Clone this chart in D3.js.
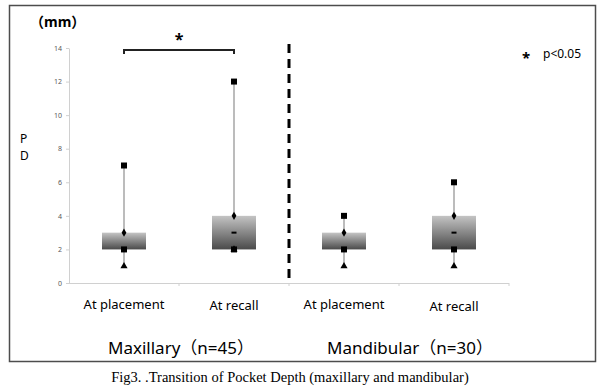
<!DOCTYPE html>
<html><head><meta charset="utf-8">
<script src="https://cdn.jsdelivr.net/npm/d3@7"></script>
<style>
html,body{margin:0;padding:0;background:#fff;}
svg{display:block;}
</style></head>
<body>
<svg id="c" width="604" height="392"></svg>
<script>
const categories = ["At placement", "At recall", "At placement", "At recall"];
const groups = ["Maxillary（n=45）", "Mandibular（n=30）"];
const maxVals = [7, 12, 4, 6];
const q3Vals = [3, 4, 3, 4];
const medVals = [2, 3, 2, 3];
const q1Vals = [2, 2, 2, 2];
const minVals = [1, 2, 1, 1];
const yTicks = [0, 2, 4, 6, 8, 10, 12, 14];

const svg = d3.select("#c");
const sans = "'Noto Sans','Noto Sans CJK JP',sans-serif";

const defs = svg.append("defs");
const g = defs.append("linearGradient").attr("id","boxg").attr("x1",0).attr("y1",0).attr("x2",0).attr("y2",1);
g.append("stop").attr("offset","0%").attr("stop-color","#c4c4c4");
g.append("stop").attr("offset","100%").attr("stop-color","#4a4a4a");

svg.append("rect").attr("x",9.5).attr("y",5.5).attr("width",586).attr("height",356)
  .attr("fill","none").attr("stroke","#4d4d4d").attr("stroke-width",1.5);

const idx = d3.range(categories.length);
const x = d3.scaleBand().domain(idx).range([69, 509]).paddingInner(0).paddingOuter(0);
const y = d3.scaleLinear().domain([0, 14]).range([283, 48]);
const cx = i => x(i) + x.bandwidth()/2;
const bw = x.bandwidth()*0.4;

const ya = svg.append("g").attr("transform","translate(69,0)")
  .call(d3.axisLeft(y).tickValues(yTicks).tickSize(3).tickPadding(4).tickSizeOuter(0));
ya.select(".domain").attr("stroke","#d0d0d0");
ya.selectAll(".tick line").attr("stroke","#d0d0d0");
ya.selectAll(".tick text").attr("font-size",7).attr("font-family",sans).attr("fill","#595959");

svg.append("line").attr("x1",69).attr("x2",509).attr("y1",y(0)+0.5).attr("y2",y(0)+0.5).attr("stroke","#d0d0d0");
svg.selectAll(".xt").data(d3.range(1, categories.length+1)).enter().append("line")
  .attr("x1",d => x(d-1)+x.bandwidth()).attr("x2",d => x(d-1)+x.bandwidth())
  .attr("y1",y(0)).attr("y2",y(0)+3).attr("stroke","#d0d0d0");

svg.append("line").attr("x1",(x(1)+x.bandwidth())).attr("x2",(x(1)+x.bandwidth()))
  .attr("y1",44).attr("y2",y(0)+1).attr("stroke","#000").attr("stroke-width",3)
  .attr("stroke-dasharray","9,6");

svg.selectAll(".wh").data(idx).enter().append("line")
  .attr("x1",cx).attr("x2",cx).attr("y1",i=>y(minVals[i])).attr("y2",i=>y(maxVals[i]))
  .attr("stroke","#a6a6a6").attr("stroke-width",1.5);

svg.selectAll(".bx").data(idx).enter().append("rect")
  .attr("x",i=>cx(i)-bw/2).attr("width",bw)
  .attr("y",i=>y(q3Vals[i])).attr("height",i=>y(q1Vals[i])-y(q3Vals[i]))
  .attr("fill","url(#boxg)");

const sym = (type, size) => d3.symbol().type(type).size(size)();
svg.selectAll(".mn").data(idx).enter().append("path")
  .attr("d", sym(d3.symbolTriangle, 22))
  .attr("transform",i=>`translate(${cx(i)},${y(minVals[i])})`).attr("fill","#000");
svg.selectAll(".md").data(idx).enter().append("rect")
  .attr("x",i=>cx(i)-2.5).attr("y",i=>y(medVals[i])-1).attr("width",5).attr("height",2).attr("fill","#000");
svg.selectAll(".q1").data(idx).enter().append("path")
  .attr("d", sym(d3.symbolSquare, 36))
  .attr("transform",i=>`translate(${cx(i)},${y(q1Vals[i])})`).attr("fill","#000");
svg.selectAll(".q3").data(idx).enter().append("path")
  .attr("d", sym(d3.symbolDiamond, 20))
  .attr("transform",i=>`translate(${cx(i)},${y(q3Vals[i])})`).attr("fill","#000");
svg.selectAll(".mx").data(idx).enter().append("path")
  .attr("d", sym(d3.symbolSquare, 36))
  .attr("transform",i=>`translate(${cx(i)},${y(maxVals[i])})`).attr("fill","#000");

svg.selectAll(".cl").data(idx).enter().append("text")
  .attr("x",cx).attr("y",i => 309 + (i===3?2:(i===1?1:0))).attr("text-anchor","middle")
  .attr("font-family",sans).attr("font-size",13).attr("fill","#000")
  .text(i=>categories[i]);

svg.append("text").attr("x",108).attr("y",354).attr("font-family",sans).attr("font-size",17).text(groups[0]);
svg.append("text").attr("x",327).attr("y",354).attr("font-family",sans).attr("font-size",17).text(groups[1]);

svg.append("text").attr("x",30).attr("y",27).attr("font-family",sans).attr("font-size",14).attr("font-weight","bold").text("（mm）");
svg.append("text").attr("x",20).attr("y",143).attr("font-family",sans).attr("font-size",12).text("P");
svg.append("text").attr("x",20).attr("y",160).attr("font-family",sans).attr("font-size",12).text("D");

const bx1 = cx(0), bx2 = cx(1), by = 50;
svg.append("path").attr("d",`M${bx1},${by+4}V${by}H${bx2}V${by+4}`).attr("fill","none").attr("stroke","#222").attr("stroke-width",2);
svg.append("text").attr("x",(bx1+bx2)/2).attr("y",45).attr("text-anchor","middle")
  .attr("font-family",sans).attr("font-size",16).attr("font-weight","bold").text("*");

svg.append("text").attr("x",522).attr("y",63).attr("font-family",sans).attr("font-size",15).attr("font-weight","bold").text("*");
svg.append("text").attr("x",543).attr("y",58).attr("font-family",sans).attr("font-size",12).text("p<0.05");

svg.append("text").attr("x",290).attr("y",382).attr("text-anchor","middle")
  .attr("font-family","'Liberation Serif','Times New Roman',serif").attr("font-size",14.5)
  .text("Fig3. .Transition of Pocket Depth (maxillary and mandibular)");
</script>
</body></html>
